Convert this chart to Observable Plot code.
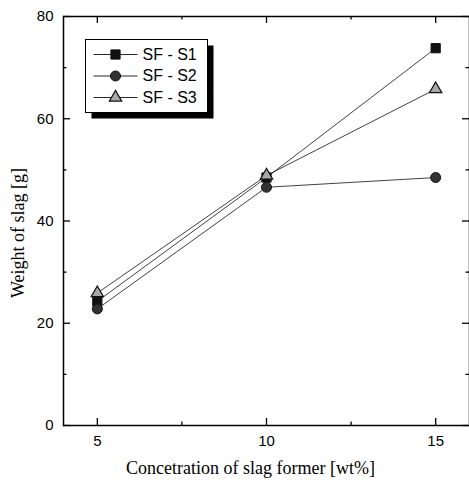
<!DOCTYPE html>
<html><head><meta charset="utf-8">
<script src="https://cdn.jsdelivr.net/npm/d3@7"></script>
<script src="https://cdn.jsdelivr.net/npm/@observablehq/plot@0.6"></script>
<style>body{margin:0;background:#fff}</style>
</head><body><div id="chart"></div>
<script>
const concentration = [5, 10, 15];
const seriesNames = ["SF - S1", "SF - S2", "SF - S3"];
const s1 = [24.3, 48.5, 73.8];
const s2 = [22.8, 46.6, 48.5];
const s3 = [25.9, 48.9, 65.8];
const xMajorTicks = [5, 10, 15];
const xMinorTicks = [7.5, 12.5];
const yMajorTicks = [0, 20, 40, 60, 80];
const yMinorTicks = [10, 30, 50, 70];
const xLabel = "Concetration of slag former [wt%]";
const yLabel = "Weight of slag [g]";

const values = [s1, s2, s3];
const styles = [
  {symbol: "square", r: 5.2, fill: "#111", stroke: "#111", strokeWidth: 1},
  {symbol: "circle", r: 5, fill: "#333", stroke: "#111", strokeWidth: 1},
  {symbol: "triangle", r: 4.6, fill: "#a8a8a8", stroke: "#111", strokeWidth: 1.2}
];
const data = seriesNames.flatMap((name, i) =>
  concentration.map((x, j) => ({series: name, x, y: values[i][j]})));

const W = 469, H = 482, mL = 63, mR = 0, mT = 16, mB = 57;
const fw = W - mL - mR, fh = H - mT - mB;
const majorLen = 7, minorLen = 3.5;

const lineSymbol = {draw(ctx) { ctx.moveTo(-22, 0); ctx.lineTo(22, 0); }};
const sans = "Liberation Sans, Arial, sans-serif";
const serif = "Liberation Serif, Times New Roman, serif";
const tk = {stroke: "black", strokeWidth: 1.3};

const marks = [
  Plot.frame({stroke: "black", strokeWidth: 1.5}),
  // inward ticks on all four sides
  Plot.tickX(xMajorTicks, {x: d => d, insetTop: fh - majorLen, ...tk}),
  Plot.tickX(xMinorTicks, {x: d => d, insetTop: fh - minorLen, ...tk}),
  Plot.tickX(xMajorTicks, {x: d => d, insetBottom: fh - majorLen, ...tk}),
  Plot.tickX(xMinorTicks, {x: d => d, insetBottom: fh - minorLen, ...tk}),
  Plot.tickY(yMajorTicks, {y: d => d, insetRight: fw - majorLen, ...tk}),
  Plot.tickY(yMinorTicks, {y: d => d, insetRight: fw - minorLen, ...tk}),
  Plot.tickY(yMajorTicks, {y: d => d, insetLeft: fw - majorLen, ...tk}),
  Plot.tickY(yMinorTicks, {y: d => d, insetLeft: fw - minorLen, ...tk}),
  Plot.axisX(xMajorTicks, {anchor: "bottom", tickSize: 0, tickPadding: 10, fontSize: 15, fontFamily: sans, label: null, fill: "black"}),
  Plot.axisY(yMajorTicks, {anchor: "left", tickSize: 0, tickPadding: 10, fontSize: 15, fontFamily: sans, label: null, fill: "black"}),
  Plot.text([xLabel], {frameAnchor: "bottom", dx: -16, dy: 43, fontSize: 18, fontFamily: serif, fill: "black", lineAnchor: "middle"}),
  Plot.text([yLabel], {frameAnchor: "left", dx: -45, dy: 12, rotate: -90, textAnchor: "middle", lineAnchor: "middle", fontSize: 18, fontFamily: serif, fill: "black"}),
  Plot.line(data, {x: "x", y: "y", z: "series", stroke: "#111", strokeWidth: 0.8}),
  ...seriesNames.map((name, i) =>
    Plot.dot(data.filter(d => d.series === name), {x: "x", y: "y", ...styles[i]})),
  // legend
  Plot.frame({fill: "black", insetLeft: 28, insetTop: 29, insetRight: 256, insetBottom: 307}),
  Plot.frame({fill: "white", stroke: "black", strokeWidth: 1, insetLeft: 22, insetTop: 23, insetRight: 262, insetBottom: 313}),
  ...seriesNames.flatMap((name, i) => [
    Plot.dot([name], {frameAnchor: "top-left", dx: 52, dy: 38 + i * 21.5, symbol: lineSymbol, stroke: "#111", strokeWidth: 0.9, fill: "none"}),
    Plot.dot([name], {frameAnchor: "top-left", dx: 52, dy: 38 + i * 21.5, ...styles[i]}),
    Plot.text([name], {frameAnchor: "top-left", dx: 79, dy: 38 + i * 21.5, textAnchor: "start", lineAnchor: "middle", fontSize: 16, fontFamily: sans, fill: "black"})
  ])
];

const chart = Plot.plot({
  width: W, height: H,
  marginLeft: mL, marginRight: mR, marginTop: mT, marginBottom: mB,
  x: {domain: [4, 16], axis: null},
  y: {domain: [0, 80], axis: null},
  style: {background: "white", color: "black", overflow: "visible"},
  marks
});
document.getElementById("chart").appendChild(chart);
</script></body></html>
